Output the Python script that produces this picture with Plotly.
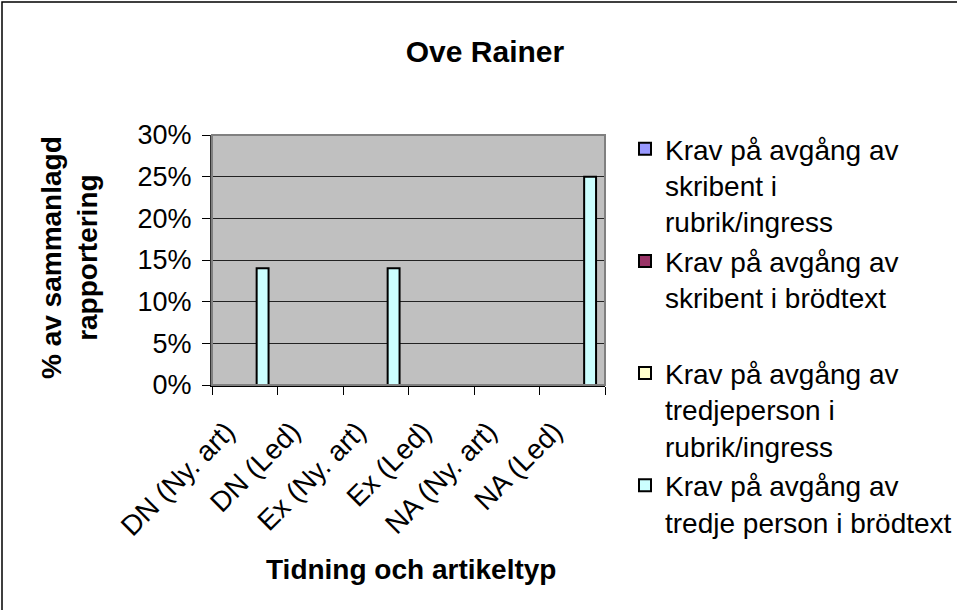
import plotly.graph_objects as go

categories = ["DN (Ny. art)", "DN (Led)", "Ex (Ny. art)", "Ex (Led)", "NA (Ny. art)", "NA (Led)"]
series_names = [
    "Krav på avgång av<br>skribent i<br>rubrik/ingress",
    "Krav på avgång av<br>skribent i brödtext<br> ",
    "Krav på avgång av<br>tredjeperson i<br>rubrik/ingress",
    "Krav på avgång av<br>tredje person i brödtext",
]
series_colors = ["#9999FF", "#993366", "#FFFFCC", "#CCFFFF"]
series_values = [
    [0, 0, 0, 0, 0, 0],
    [0, 0, 0, 0, 0, 0],
    [0, 0, 0, 0, 0, 0],
    [0.14, 0, 0.14, 0, 0, 0.25],
]

W, H = 957, 610
L, R, T, B = 212, 352, 135, 225
pw, ph = W - L - R, H - T - B


def px_x(x):
    return (x - L) / pw


def px_y(y):
    return (H - B - y) / ph


fig = go.Figure()
for i, (name, color, vals) in enumerate(zip(series_names, series_colors, series_values)):
    fig.add_trace(go.Bar(
        x=categories, y=vals, name=name, legendgroup=f"s{i}",
        marker=dict(color=color, line=dict(color="black", width=2)),
    ))

fig.update_layout(
    width=W, height=H,
    margin=dict(l=L, r=R, t=T, b=B, autoexpand=False),
    paper_bgcolor="white", plot_bgcolor="#C0C0C0",
    font=dict(family="Arial, Liberation Sans, sans-serif", size=27, color="black"),
    title=dict(text="<b>Ove Rainer</b>", x=485 / W, xanchor="center", y=1 - 51 / H, yanchor="middle",
               font=dict(size=30)),
    barmode="group", bargap=0.273, bargroupgap=0,
    legend=dict(x=px_x(625), xanchor="left", y=px_y(124), yanchor="top", valign="top",
                font=dict(size=28), tracegroupgap=5, traceorder="normal",
                bgcolor="rgba(0,0,0,0)", maxheight=590),
    showlegend=True,
)
fig.update_xaxes(
    type="category", tickangle=-45, tickson="boundaries", ticks="outside", ticklen=8,
    tickcolor="black", showline=True, linecolor="black", linewidth=2,
    tickfont=dict(size=28), ticklabelstandoff=17, ticklabelshift=-18, automargin=False,
    showgrid=False,
)
fig.update_yaxes(
    range=[0, 0.30], dtick=0.05, tickformat=".0%", ticks="outside", ticklen=8, tickcolor="black",
    showline=True, linecolor="#333333", linewidth=2, showgrid=True, gridcolor="#222222", gridwidth=1,
    ticklabelstandoff=5, automargin=False, zeroline=False,
)
# axis titles
fig.add_annotation(text="<b>Tidning och artikeltyp</b>", xref="paper", yref="paper",
                   x=px_x(411), y=px_y(569), xanchor="center", yanchor="middle",
                   showarrow=False, font=dict(size=28))
fig.add_annotation(text="<b>% av sammanlagd<br>rapportering</b>", xref="paper", yref="paper",
                   x=px_x(69), y=px_y(258), xanchor="center", yanchor="middle", textangle=-90,
                   showarrow=False, font=dict(size=28))
# grey plot-area border and black outer chart frame
fig.add_shape(type="rect", xref="paper", yref="paper", x0=0, y0=0, x1=1, y1=1,
              line=dict(color="#808080", width=2), layer="above")
fig.add_shape(type="rect", xref="paper", yref="paper",
              x0=px_x(2), x1=px_x(W + 5), y0=px_y(H + 5), y1=px_y(2),
              line=dict(color="black", width=1.5))
fig.write_html("out.html", config={"displayModeBar": False},
               post_script="document.body.style.margin='0';")
